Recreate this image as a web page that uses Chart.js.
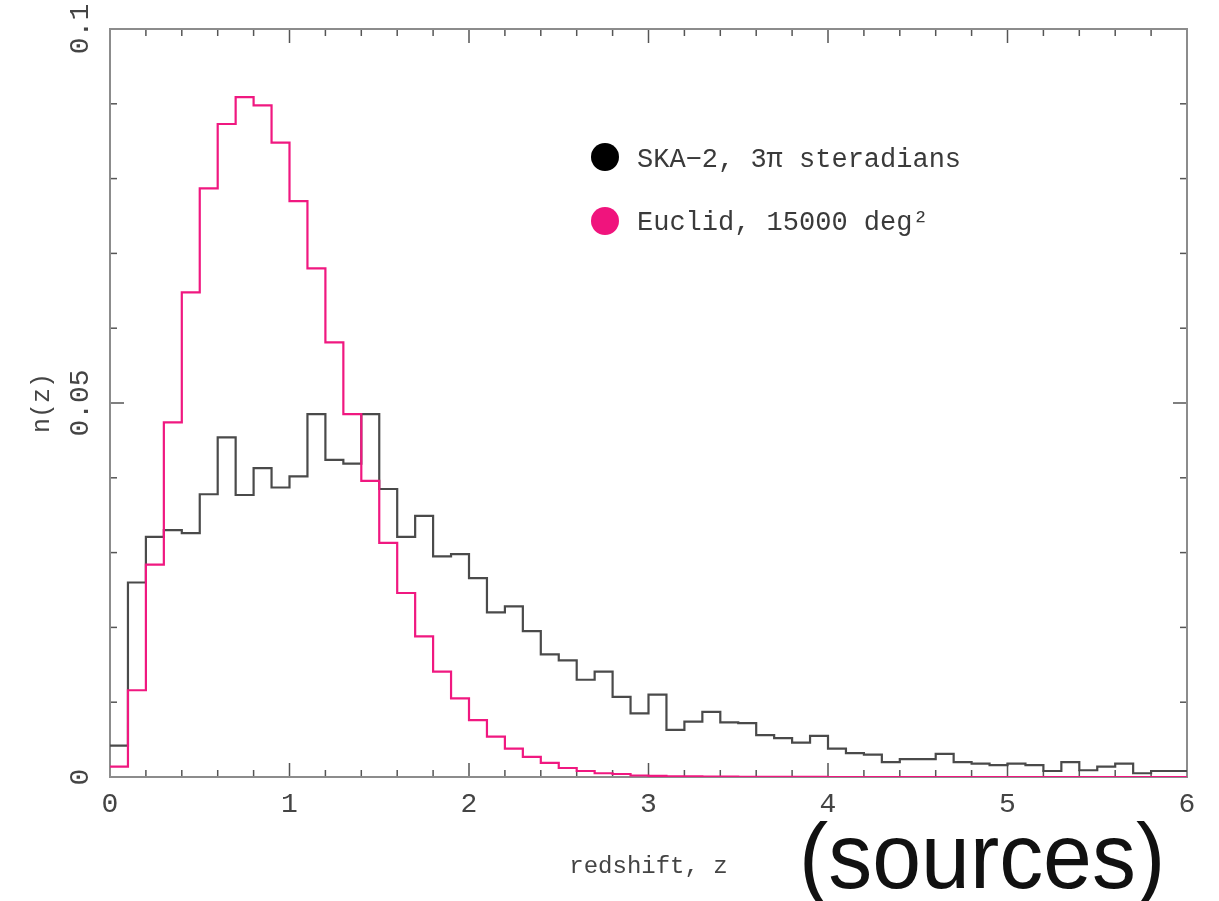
<!DOCTYPE html>
<html>
<head>
<meta charset="utf-8">
<script src="https://cdn.jsdelivr.net/npm/chart.js@4.4.1/dist/chart.umd.min.js"></script>
<style>
html,body{margin:0;padding:0;background:#fff;}
#wrap{position:relative;width:1219px;height:901px;overflow:hidden;background:#fff;}
#c{position:absolute;left:0;top:0;}
#note{position:absolute;left:799px;top:810px;font-family:'Liberation Sans',Arial,Helvetica,sans-serif;font-size:92px;line-height:1;color:#111;transform:scaleX(0.955);transform-origin:0 0;white-space:nowrap;}
</style>
</head>
<body>
<div id="wrap">
<canvas id="c" width="1219" height="901"></canvas>
<div id="note">(sources)</div>
</div>
<script>
// ---- data ----
const binEdges = [0.0,0.1,0.2,0.3,0.4,0.5,0.6,0.7,0.8,0.9,1.0,1.1,1.2,1.3,1.4,1.5,1.6,1.7,1.8,1.9,2.0,2.1,2.2,2.3,2.4,2.5,2.6,2.7,2.8,2.9,3.0,3.1,3.2,3.3,3.4,3.5,3.6,3.7,3.8,3.9,4.0,4.1,4.2,4.3,4.4,4.5,4.6,4.7,4.8,4.9,5.0,5.1,5.2,5.3,5.4,5.5,5.6,5.7,5.8,5.9,6.0];

const skaValues = [0.0042,0.0260,0.0321,0.0330,0.0326,0.0378,0.0454,0.0377,0.0413,0.0387,
                   0.0402,0.0485,0.0424,0.0419,0.0485,0.0385,0.0321,0.0349,0.0295,0.0298,
                   0.0266,0.0220,0.0228,0.0195,0.0164,0.0156,0.0130,0.0141,0.0107,0.0085,
                   0.0110,0.0063,0.0074,0.0087,0.0073,0.0072,0.0056,0.0052,0.0046,0.0055,
                   0.0038,0.0032,0.0030,0.0020,0.0024,0.0024,0.0031,0.0020,0.0018,0.0016,
                   0.0018,0.0016,0.0008,0.0020,0.0009,0.0014,0.0018,0.0005,0.0008,0.0008];

const euclidValues = [0.0014,0.0116,0.0284,0.0474,0.0648,0.0787,0.0873,0.0909,0.0898,0.0848,
                      0.0770,0.0680,0.0581,0.0485,0.0396,0.0313,0.0246,0.0188,0.0141,0.0105,
                      0.0076,0.0054,0.0038,0.0027,0.0019,0.0012,0.0008,0.0005,0.0004,0.0002,
                      0.00015,0.0001,0.00008,0.00005,0.00004,0.00003,0.00002,0.00002,0.00001,0.00001,
                      0,0,0,0,0,0,0,0,0,0,
                      0,0,0,0,0,0,0,0,0,0];

const seriesNames = ['SKA\u22122, 3\u03c0 steradians', 'Euclid, 15000 deg\u00b2'];
const seriesColors = ['#4a4a4a', 'rgb(240,24,128)'];
const legendDotColors = ['#000000', 'rgb(240,20,125)'];

const xTickValues = [0,1,2,3,4,5,6];
const xTickLabels = ['0','1','2','3','4','5','6'];
const xMinorTickValues = [0.2,0.4,0.6,0.8,1.2,1.4,1.6,1.8,2.2,2.4,2.6,2.8,3.2,3.4,3.6,3.8,4.2,4.4,4.6,4.8,5.2,5.4,5.6,5.8];
const yTickValues = [0,0.05,0.1];
const yTickLabels = ['0','0.05','0.1'];
const yMinorTickValues = [0.01,0.02,0.03,0.04,0.06,0.07,0.08,0.09];

const xTitle = 'redshift, z';
const yTitle = 'n(z)';

// histogram steps: one point per bin edge, last edge repeats the last bin
function toSteps(values) {
  return binEdges.map((e, i) => ({ x: e, y: values[Math.min(i, values.length - 1)] }));
}

const framePlugin = {
  id: 'frameTicks',
  beforeDatasetsDraw(chart) {
    const { ctx, chartArea: a, scales: { x, y } } = chart;
    ctx.save();
    ctx.strokeStyle = '#555';
    ctx.lineWidth = 1.5;
    const seg = (x1, y1, x2, y2) => { ctx.beginPath(); ctx.moveTo(x1, y1); ctx.lineTo(x2, y2); ctx.stroke(); };
    xTickValues.forEach(v => { const p = x.getPixelForValue(v); seg(p, a.bottom, p, a.bottom - 14); seg(p, a.top, p, a.top + 14); });
    xMinorTickValues.forEach(v => { const p = x.getPixelForValue(v); seg(p, a.bottom, p, a.bottom - 7); seg(p, a.top, p, a.top + 7); });
    yTickValues.forEach(v => { const p = y.getPixelForValue(v); seg(a.left, p, a.left + 14, p); seg(a.right, p, a.right - 14, p); });
    yMinorTickValues.forEach(v => { const p = y.getPixelForValue(v); seg(a.left, p, a.left + 7, p); seg(a.right, p, a.right - 7, p); });
    ctx.strokeStyle = '#8c8c8c';
    ctx.lineWidth = 2;
    ctx.strokeRect(a.left, a.top, a.right - a.left, a.bottom - a.top);
    ctx.restore();
  }
};

const legendPlugin = {
  id: 'inlineLegend',
  afterDraw(chart) {
    const { ctx } = chart;
    const rows = [{ dx: 605, dy: 157, tx: 637, by: 167 }, { dx: 605, dy: 221, tx: 637, by: 230 }];
    ctx.save();
    chart.data.datasets.forEach((ds, i) => {
      const r = rows[i];
      ctx.fillStyle = legendDotColors[i];
      ctx.beginPath(); ctx.arc(r.dx, r.dy, 14, 0, Math.PI * 2); ctx.fill();
      ctx.fillStyle = '#3a3a3a';
      ctx.font = '27px "Liberation Mono", monospace';
      ctx.textAlign = 'left';
      ctx.textBaseline = 'alphabetic';
      ctx.fillText(ds.label, r.tx, r.by);
    });
    ctx.restore();
  }
};

new Chart(document.getElementById('c'), {
  type: 'line',
  data: {
    datasets: [
      { label: seriesNames[0], data: toSteps(skaValues), borderColor: seriesColors[0], borderWidth: 2.2,
        stepped: 'before', pointRadius: 0, fill: false, order: 1 },
      { label: seriesNames[1], data: toSteps(euclidValues), borderColor: seriesColors[1], borderWidth: 2.2,
        stepped: 'before', pointRadius: 0, fill: false, order: 0 }
    ]
  },
  options: {
    responsive: false,
    animation: false,
    devicePixelRatio: 1,
    layout: { padding: { left: 0, right: 32, top: 29, bottom: 0 } },
    plugins: { legend: { display: false }, tooltip: { enabled: false } },
    scales: {
      x: {
        type: 'linear', min: 0, max: 6,
        grid: { display: false }, border: { display: false },
        ticks: { font: { family: 'Liberation Mono', size: 28 }, color: '#444', padding: 3,
                 maxRotation: 0, autoSkip: false, callback: (v, i) => xTickLabels[i] },
        afterBuildTicks: s => { s.ticks = xTickValues.map(v => ({ value: v })); },
        afterFit: s => { s.height = 124; s.paddingLeft = 0; s.paddingRight = 0; },
        title: { display: true, text: xTitle, font: { family: 'Liberation Mono', size: 24 }, color: '#444',
                 padding: { top: 0, bottom: 20 } }
      },
      y: {
        type: 'linear', min: 0, max: 0.1,
        grid: { display: false }, border: { display: false },
        ticks: { font: { family: 'Liberation Mono', size: 28 }, color: '#444', padding: -12,
                 minRotation: 90, maxRotation: 90, crossAlign: 'center', autoSkip: false,
                 callback: (v, i) => yTickLabels[i] },
        afterBuildTicks: s => { s.ticks = yTickValues.map(v => ({ value: v })); },
        afterFit: s => { s.width = 110; s.paddingTop = 0; s.paddingBottom = 0; },
        title: { display: true, text: yTitle, font: { family: 'Liberation Mono', size: 25 }, color: '#444',
                 padding: { top: 27, bottom: 0 } }
      }
    }
  },
  plugins: [framePlugin, legendPlugin]
});
</script>
</body>
</html>
